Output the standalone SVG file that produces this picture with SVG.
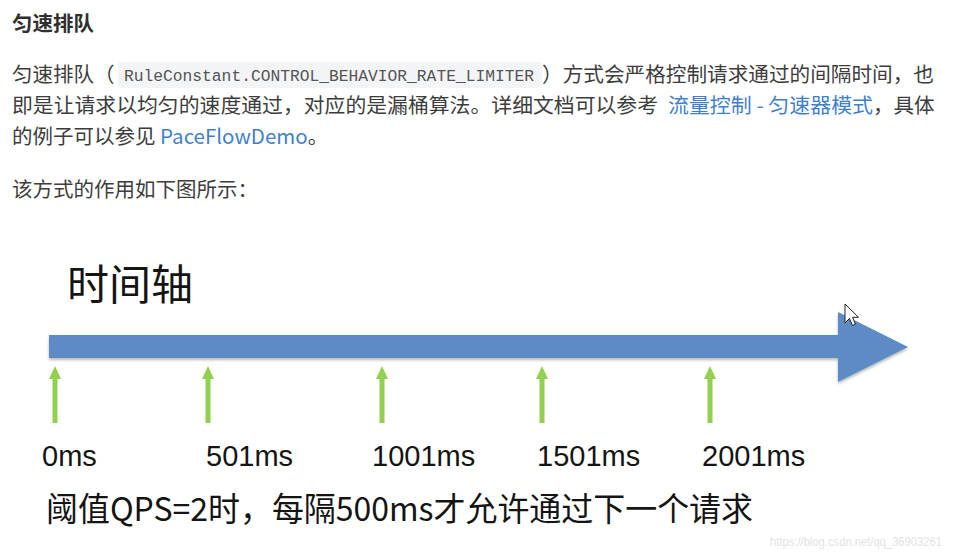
<svg xmlns="http://www.w3.org/2000/svg" width="953" height="559" viewBox="0 0 953 559">
  <style>
    .doc { font-family: "Noto Sans CJK SC", "Noto Sans", sans-serif; font-size: 20.5px; fill: #3d3d3d; }
    .head { font-weight: bold; fill: #2f2f2f; }
    .link { fill: #3f7fd1; }
    .code { font-family: "Liberation Mono", monospace; font-size: 16.3px; fill: #555; }
    .lbl { font-family: "Liberation Sans", "Noto Sans CJK SC", sans-serif; font-size: 29px; fill: #141414; }
    .big { font-family: "Noto Sans CJK SC", sans-serif; fill: #141414; }
    .tick { stroke: #92d050; stroke-width: 5; fill: none; }
    .wm { font-family: "Liberation Sans", sans-serif; font-size: 12px; fill: #e2e2e2; }
  </style>
  <defs>
    <marker id="gh" markerUnits="userSpaceOnUse" viewBox="0 0 13 12" markerWidth="13" markerHeight="12" refX="1" refY="6" orient="auto">
      <path d="M0,0 L13,6 L0,12 z" fill="#92d050"/>
    </marker>
    <filter id="sh" x="-5%" y="-20%" width="110%" height="150%">
      <feDropShadow dx="0" dy="2" stdDeviation="1.5" flood-color="#000" flood-opacity="0.28"/>
    </filter>
  </defs>
  <rect width="953" height="559" fill="#ffffff"/>

  <g id="doc-text">
    <text class="doc head" x="12" y="31">匀速排队</text>
    <text class="doc" x="12" y="82">匀速排队（</text>
    <rect x="118" y="62" width="424" height="26" rx="3" fill="#f3f4f5"/>
    <text class="code" x="124" y="81" textLength="410" lengthAdjust="spacingAndGlyphs">RuleConstant.CONTROL_BEHAVIOR_RATE_LIMITER</text>
    <text class="doc" x="542" y="82" textLength="392" lengthAdjust="spacingAndGlyphs">）方式会严格控制请求通过的间隔时间，也</text>
    <text class="doc" x="12" y="113" textLength="646" lengthAdjust="spacingAndGlyphs">即是让请求以均匀的速度通过，对应的是漏桶算法。详细文档可以参考</text>
    <text class="doc link" x="668" y="113" textLength="205" lengthAdjust="spacingAndGlyphs">流量控制 - 匀速器模式</text>
    <text class="doc" x="873" y="113">，具体</text>
    <text class="doc" x="12" y="144">的例子可以参见 <tspan class="link">PaceFlowDemo</tspan>。</text>
    <text class="doc" x="12" y="197">该方式的作用如下图所示：</text>
  </g>

  <g id="title">
    <text class="big" x="67" y="300" font-size="42">时间轴</text>
  </g>

  <g id="timeline">
    <path d="M49,335 L838,335 L838,312 L908,347 L838,382 L838,358 L49,358 z" fill="#5b8bc6" filter="url(#sh)"/>
  </g>

  <g id="connectors">
    <line class="tick" x1="55" y1="423" x2="55" y2="378" marker-end="url(#gh)"/>
    <line class="tick" x1="208" y1="423" x2="208" y2="378" marker-end="url(#gh)"/>
    <line class="tick" x1="382" y1="423" x2="382" y2="378" marker-end="url(#gh)"/>
    <line class="tick" x1="542" y1="423" x2="542" y2="378" marker-end="url(#gh)"/>
    <line class="tick" x1="710" y1="423" x2="710" y2="378" marker-end="url(#gh)"/>
  </g>

  <g id="label-0"><text class="lbl" x="42" y="466">0ms</text></g>
  <g id="label-501"><text class="lbl" x="206" y="466">501ms</text></g>
  <g id="label-1001"><text class="lbl" x="372" y="466">1001ms</text></g>
  <g id="label-1501"><text class="lbl" x="537" y="466">1501ms</text></g>
  <g id="label-2001"><text class="lbl" x="702" y="466">2001ms</text></g>

  <g id="caption">
    <text class="big" x="46" y="521" font-size="32.5" textLength="707" lengthAdjust="spacingAndGlyphs">阈值QPS=2时，每隔500ms才允许通过下一个请求</text>
  </g>

  <g id="cursor">
    <path d="M845,304 L845,323 L849.5,318.5 L852.5,325.5 L855.5,324.2 L852.5,317.3 L858.5,317.3 z" fill="#ffffff" stroke="#222" stroke-width="1" stroke-linejoin="round"/>
  </g>

  <g id="watermark">
    <text class="wm" x="770" y="546" textLength="172" lengthAdjust="spacingAndGlyphs">https://blog.csdn.net/qq_36903261</text>
  </g>
</svg>
